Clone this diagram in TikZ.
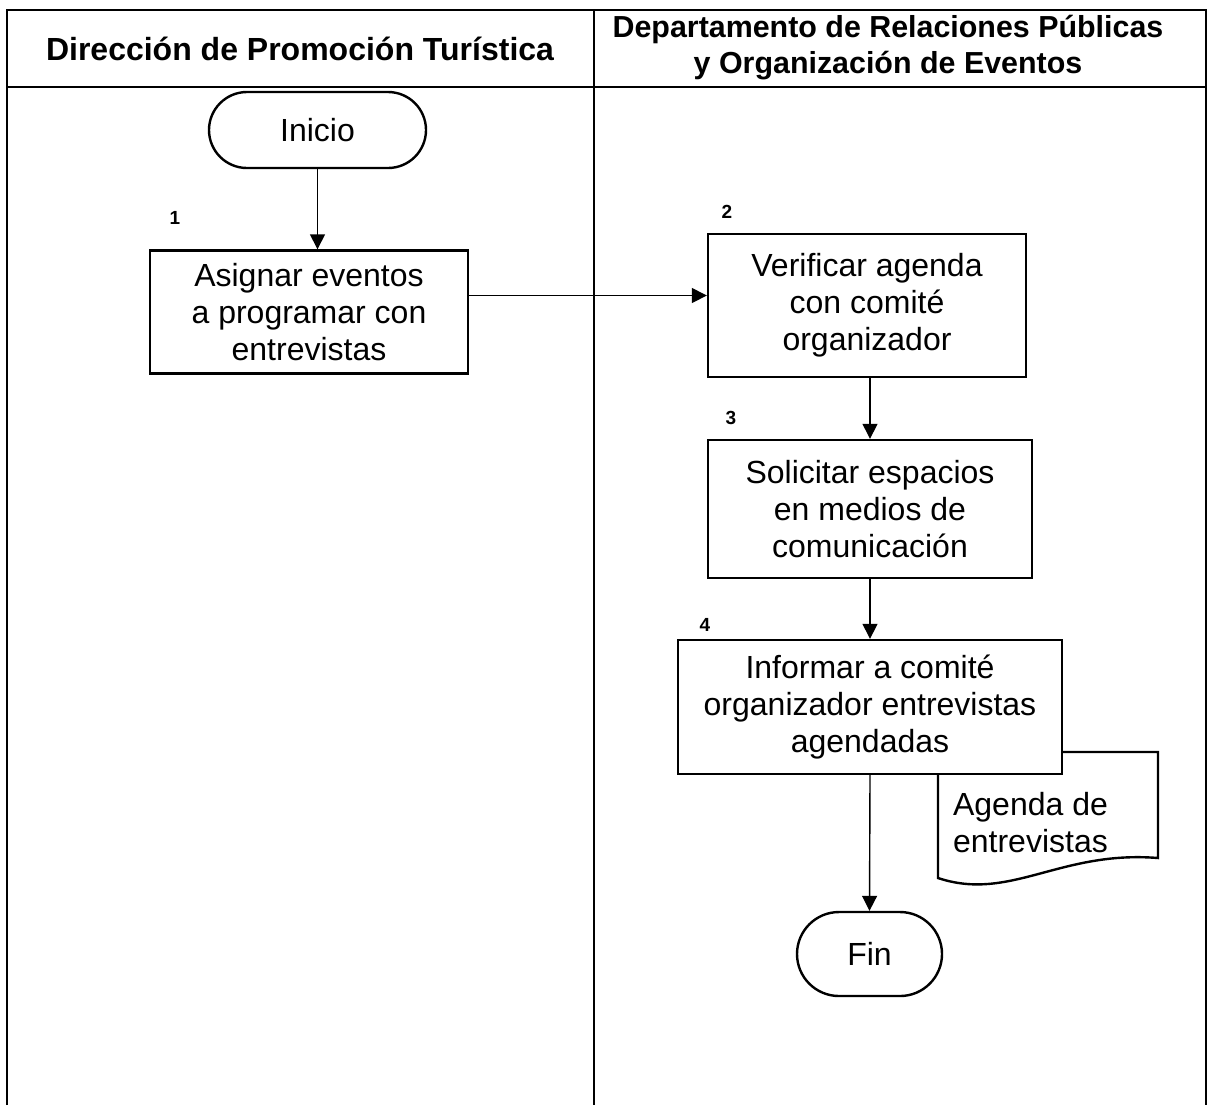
\documentclass[tikz,border=0pt]{standalone}
\usepackage{fontspec}
\setmainfont{Liberation Sans}
\usetikzlibrary{arrows.meta,calc}
\begin{document}
\begin{tikzpicture}[x=0.5pt,y=-0.5pt,
  frame/.style={line width=1.3pt},
  lane/.style={line width=1.0pt},
  stepbox/.style={draw,line width=1.2pt,fill=white,rectangle,align=center,
    font=\fontsize{16}{18.5}\selectfont,inner sep=0pt},
  terminal/.style={draw,line width=1.2pt,fill=white,rectangle,align=center,
    font=\fontsize{16}{18.5}\selectfont,inner sep=0pt},
  header/.style={align=center,font=\bfseries\fontsize{16}{18}\selectfont},
  num/.style={font=\bfseries\fontsize{9.5}{10}\selectfont},
  arr/.style={line width=0.7pt,-{Triangle[length=7.5pt,width=7.5pt]}}]
\useasboundingbox (0,0) rectangle (1208,1105);

% swimlane frame
\draw[frame] (7,1105) -- (7,10) -- (1206,10) -- (1206,1105);
\draw[frame] (7,87) -- (1206,87);
\draw[lane] (594,10) -- (594,1105);

% lane titles
\node[header] (h1) at (300,49) {Dirección de Promoción Turística};
\node[header,font=\bfseries\fontsize{15.2}{18}\selectfont] (h2) at (888,48)
  {Departamento de Relaciones Públicas\\y Organización de Eventos};

% start
\node[terminal,rounded corners=19pt,minimum width=108.5pt,minimum height=38pt] (ini) at (317.5,130) {Inicio};

% step 1
\node[stepbox,minimum width=159pt,minimum height=61.5pt] (s1) at (309,312)
  {Asignar eventos\\a programar con\\entrevistas};
\node[num] (n1) at (175,218) {1};

% step 2
\node[stepbox,minimum width=159pt,minimum height=71.5pt] (s2) at (867,305.5)
  {Verificar agenda\\con comité\\organizador};
\node[num] (n2) at (727,212) {2};

% step 3
\node[stepbox,minimum width=162pt,minimum height=69pt] (s3) at (870,509)
  {Solicitar espacios\\en medios de\\comunicación};
\node[num] (n3) at (731,418) {3};

% output document (drawn before step 4 so the box covers its corner)
\draw[line width=1.2pt,fill=white] (938,878) -- (938,752) -- (1158,752) -- (1158,858)
  .. controls (1060,850) and (1010,902) .. (938,878) -- cycle;
\node[anchor=west,align=left,font=\fontsize{16}{18.5}\selectfont] (doc) at (946,823)
  {Agenda de\\entrevistas};

% step 4
\node[stepbox,minimum width=192pt,minimum height=67pt] (s4) at (870,707)
  {Informar a comité\\organizador entrevistas\\agendadas};
\node[num] (n4) at (705,625) {4};

% end
\node[terminal,rounded corners=21pt,minimum width=72.5pt,minimum height=42pt] (fin) at (869.5,954) {Fin};

% flow
\coordinate (a1) at ($(s1.east)+(0,-16.5)$);
\draw[arr] (ini.south) -- (ini.south |- s1.north);
\draw[arr] (a1) -- (a1 -| s2.west);
\draw[arr] (s2.south -| s3.north) -- (s3.north);
\draw[arr] (s3.south) -- (s4.north);
\draw[arr] (s4.south) -- (fin.north);
\end{tikzpicture}
\end{document}
